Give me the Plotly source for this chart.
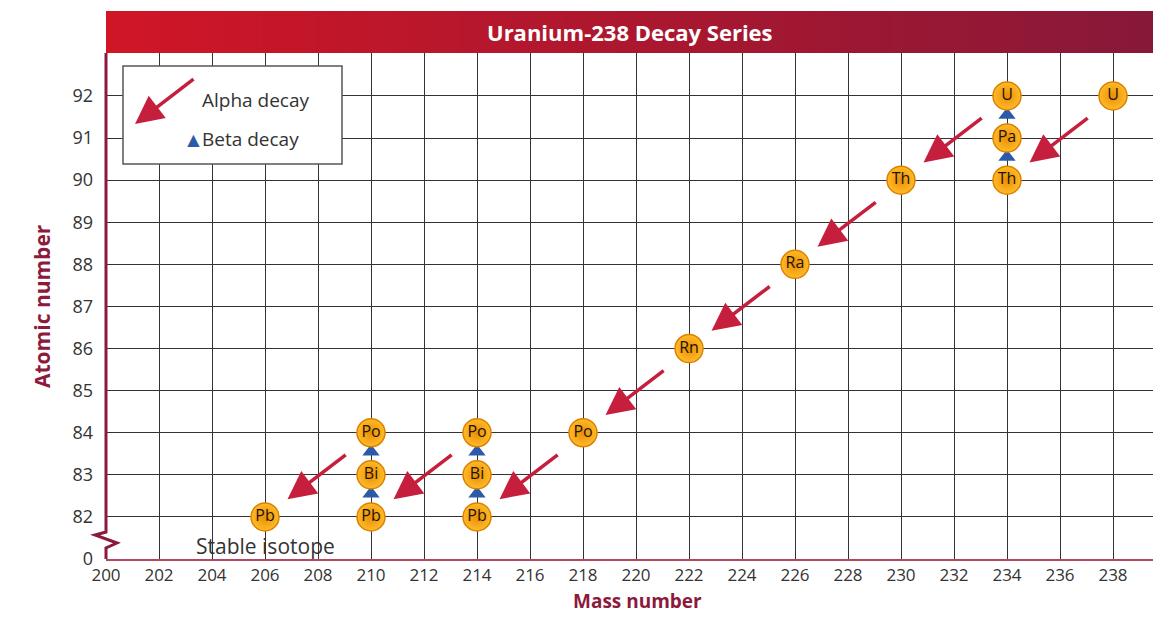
import plotly.graph_objects as go

# ── data ────────────────────────────────────────────────────────────
node_symbol = ["U", "U", "Pa", "Th", "Th", "Ra", "Rn", "Po", "Po", "Bi", "Pb", "Po", "Bi", "Pb", "Pb"]
node_mass   = [238, 234, 234, 234, 230, 226, 222, 218, 214, 214, 214, 210, 210, 210, 206]
node_z      = [92, 92, 91, 90, 90, 88, 86, 84, 84, 83, 82, 84, 83, 82, 82]

# alpha decay: (parent mass, parent Z) -> (daughter mass, daughter Z)
alpha_from = [(238, 92), (234, 92), (230, 90), (226, 88), (222, 86), (218, 84), (214, 84), (210, 84)]
alpha_to   = [(234, 90), (230, 90), (226, 88), (222, 86), (218, 84), (214, 82), (210, 82), (206, 82)]

# beta decay: (mass, parent Z) -> Z + 1
beta_from = [(234, 90), (234, 91), (214, 82), (214, 83), (210, 82), (210, 83)]

x_ticks = list(range(200, 240, 2))
y_ticks = [81, 82, 83, 84, 85, 86, 87, 88, 89, 90, 91, 92]
y_labels = ["0"] + [str(v) for v in range(82, 93)]

RED    = "#c61f3d"
MAROON = "#8c1a3c"
BLUE   = "#2c5aa8"
FONT   = "Open Sans"

# page is drawn 8px in from the window corner; layout nudged up 4px
W, H = 1145, 607
L, T, B = 98, 45, 56
PLOT_W, PLOT_H = W - L, H - T - B
DY = 4


def px(x):  # reference pixel -> paper x
    return (x - 8 - L) / PLOT_W


def py(y):  # reference pixel -> paper y
    return (8 + T + PLOT_H - (y - DY)) / PLOT_H


fig = go.Figure()

# beta arrows (blue triangles between stacked nodes)
fig.add_trace(go.Scatter(
    x=[m for m, z in beta_from], y=[z + 0.55 for m, z in beta_from],
    mode="markers", hoverinfo="skip", showlegend=False,
    marker=dict(symbol="triangle-up", size=15, color=BLUE),
))

# nuclide nodes
fig.add_trace(go.Scatter(
    x=node_mass, y=node_z, text=node_symbol,
    mode="markers+text", textposition="middle center", showlegend=False,
    textfont=dict(family=FONT, size=16, color="#241300"),
    marker=dict(size=28, color="#ffbb28", line=dict(color="#dc8200", width=1.5),
                gradient=dict(type="radial", color="#ea8e06")),
    hovertemplate="%{text}  A=%{x}  Z=%{y}<extra></extra>",
))

# alpha arrows
for (pm, pz), (dm, dz) in zip(alpha_from, alpha_to):
    fig.add_annotation(
        x=dm + 0.85, y=dz + 0.42, ax=pm - 0.9, ay=pz - 0.5,
        xref="x", yref="y", axref="x", ayref="y",
        showarrow=True, arrowhead=2, arrowsize=1.6, arrowwidth=3.5,
        arrowcolor=RED, text="",
    )

fig.add_annotation(x=206, y=81.32, xref="x", yref="y", text="Stable isotope",
                   showarrow=False, font=dict(family=FONT, size=21, color="#333"))

# ── title bar (stepped gradient) ────────────────────────────────────
c0, c1 = (208, 22, 38), (136, 24, 56)
n = 80
for i in range(n):
    t = i / (n - 1)
    col = "rgb(%d,%d,%d)" % tuple(round(a + (b - a) * t) for a, b in zip(c0, c1))
    fig.add_shape(type="rect", xref="paper", yref="paper",
                  x0=i / n, x1=(i + 1) / n + 0.002, y0=1.0, y1=py(15),
                  fillcolor=col, line=dict(width=0), layer="above")
fig.add_annotation(x=0.5, y=py(36), xref="paper", yref="paper", yanchor="middle",
                   text="<b>Uranium-238 Decay Series</b>", showarrow=False,
                   font=dict(family=FONT, size=22, color="white"))

# ── axis titles ─────────────────────────────────────────────────────
fig.add_annotation(x=px(637), y=py(605), xref="paper", yref="paper", yanchor="middle",
                   text="<b>Mass number</b>", showarrow=False,
                   font=dict(family=FONT, size=19, color=MAROON))
fig.add_annotation(x=px(26), y=py(310), xref="paper", yref="paper", textangle=-90,
                   text="<b>Atomic number</b>", showarrow=False,
                   font=dict(family=FONT, size=21, color=MAROON))

# ── left axis with break ────────────────────────────────────────────
fig.add_shape(type="path", xref="paper", yref="paper", layer="above",
              path=f"M {px(106)} {py(57)} L {px(106)} {py(536)} L {px(95)} {py(539)} "
                   f"L {px(117)} {py(547)} L {px(106)} {py(552)} L {px(106)} {py(563)}",
              line=dict(color=MAROON, width=3))

# ── legend box ──────────────────────────────────────────────────────
fig.add_shape(type="rect", xref="paper", yref="paper", layer="above",
              x0=px(123), x1=px(342), y0=py(168), y1=py(70),
              fillcolor="white", line=dict(color="#555", width=1.5))
fig.add_annotation(x=px(135), y=py(128), xref="paper", yref="paper", ax=60, ay=-46,
                   showarrow=True, arrowhead=2, arrowsize=1.6, arrowwidth=3.5,
                   arrowcolor=RED, text="")
fig.add_annotation(x=px(200), y=py(104), xref="paper", yref="paper", xanchor="left",
                   yanchor="middle", text="Alpha decay", showarrow=False,
                   font=dict(family=FONT, size=19, color="#333"))
fig.add_annotation(x=px(181), y=py(143), xref="paper", yref="paper", yanchor="middle",
                   text="▲", showarrow=False, font=dict(size=21, color=BLUE))
fig.add_annotation(x=px(200), y=py(143), xref="paper", yref="paper", xanchor="left",
                   yanchor="middle", text="Beta decay", showarrow=False,
                   font=dict(family=FONT, size=19, color="#333"))

fig.update_layout(
    width=W, height=H,
    margin=dict(l=L, r=0, t=T, b=B, pad=0, autoexpand=False),
    paper_bgcolor="white", plot_bgcolor="white",
    font=dict(family=FONT, color="#333"),
    xaxis=dict(range=[200, 200 + PLOT_W / 26.5], tickvals=x_ticks, showgrid=True,
               gridcolor="#333", gridwidth=1.3, zeroline=False, automargin=False,
               showline=True, linecolor="#b5475f", linewidth=2,
               tickfont=dict(size=17, color="#333"), ticks=""),
    yaxis=dict(range=[81, 93.02], tickvals=y_ticks, ticktext=y_labels,
               showgrid=True, gridcolor="#333", gridwidth=1.3, zeroline=False,
               showline=False, ticks="", ticklabelstandoff=12, automargin=False,
               tickfont=dict(size=18, color="#333")),
)

fig.write_html("out.html")
